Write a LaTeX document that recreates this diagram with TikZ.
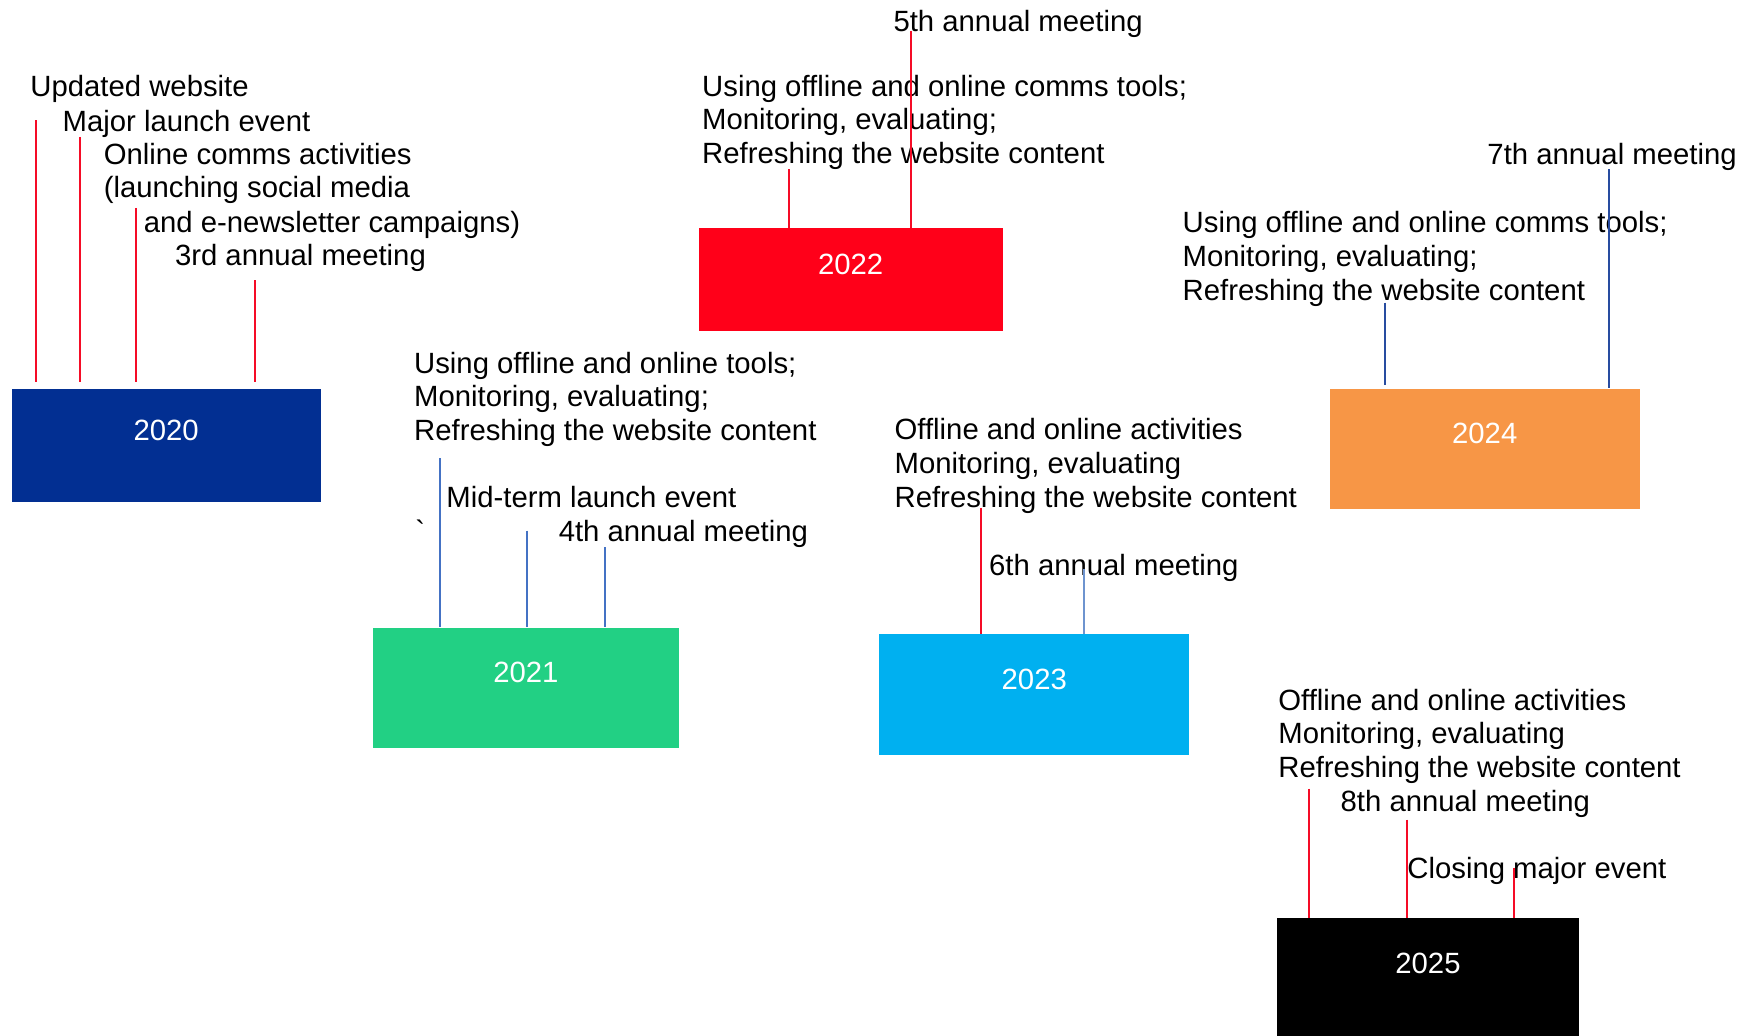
\documentclass[tikz,border=0pt]{standalone}
\usepackage{fontspec}
\setmainfont{Liberation Sans}
\usetikzlibrary{positioning}

\definecolor{yrblue}{RGB}{2,47,146}
\definecolor{yrgreen}{RGB}{34,208,132}
\definecolor{yrred}{RGB}{255,0,25}
\definecolor{yrcyan}{RGB}{0,176,240}
\definecolor{yrorange}{RGB}{247,150,70}
\definecolor{tickred}{RGB}{245,12,38}
\definecolor{tickblue}{RGB}{68,114,196}
\definecolor{ticklight}{RGB}{110,148,207}
\definecolor{tickdark}{RGB}{40,76,160}

\tikzset{
  yearbox/.style={anchor=north west, inner sep=0pt, text=white,
    text height=10.6pt, text depth=15.6pt},
  note/.style={anchor=base west, inner sep=0pt, align=left},
  tick/.style={line width=1pt}
}

\begin{document}
\begin{tikzpicture}[x=0.5561pt,y=-0.5561pt,
  every node/.style={font=\fontsize{14.65pt}{16.85pt}\selectfont}]
\useasboundingbox (0,0) rectangle (1568,931);

% year boxes
\node[yearbox, fill=yrblue, minimum width=154.6pt, minimum height=56.7pt] (b2020) at (10,349) {2020};
\node[yearbox, fill=yrgreen, minimum width=152.9pt, minimum height=60.1pt] (b2021) at (335,564) {2021};
\node[yearbox, fill=yrred, minimum width=151.8pt, minimum height=51.2pt] (b2022) at (628,205) {2022};
\node[yearbox, fill=yrcyan, minimum width=155.2pt, minimum height=60.1pt] (b2023) at (790,570) {2023};
\node[yearbox, fill=yrorange, minimum width=155.2pt, minimum height=60.1pt] (b2024) at (1195,349) {2024};
\node[yearbox, fill=black, minimum width=150.7pt, minimum height=60.1pt] (b2025) at (1148,825) {2025};

% 2020 (base of a note = its last line)
\node[note] (n2020a) at (27,87) {Updated website};
\node[note] (n2020b) at (56,118) {Major launch event};
\node[note] (n2020c) at (93,178) {Online comms activities\\(launching social media};
\node[note] (n2020d) at (129,209) {and e-newsletter campaigns)};
\node[note] (n2020e) at (157,239) {3rd annual meeting};
\foreach \x/\y in {32/108,72/123,122/187,229/252}
  \draw[tick, tickred, shorten >=3.3pt] (\x,\y) -- (\x,\y |- b2020.north);

% 2021
\node[note] (n2021a) at (372,396) {Using offline and online tools;\\Monitoring, evaluating;\\Refreshing the website content};
\node[note] (n2021b) at (401,456) {Mid-term launch event};
\node[note] (n2021c) at (373,487) {\textasciigrave};
\node[note] (n2021d) at (502,487) {4th annual meeting};
\foreach \x/\y in {396/412,474/477,544/492}
  \draw[tick, tickblue] (\x,\y) -- (\x,\y |- b2021.north);

% 2022
\node[note] (n2022a) at (803,28) {5th annual meeting};
\node[note] (n2022b) at (631,147) {Using offline and online comms tools;\\Monitoring, evaluating;\\Refreshing the website content};
\foreach \x/\y in {709/152,819/28}
  \draw[tick, tickred] (\x,\y) -- (\x,\y |- b2022.north);

% 2023
\node[note] (n2023a) at (804,456) {Offline and online activities\\Monitoring, evaluating\\Refreshing the website content};
\node[note] (n2023b) at (889,517) {6th annual meeting};
\draw[tick, tickred] (882,457) -- (882,457 |- b2023.north);
\draw[tick, ticklight] (975,512) -- (975,512 |- b2023.north);

% 2024
\node[note] (n2024a) at (1337,148) {7th annual meeting};
\node[note] (n2024b) at (1063,270) {Using offline and online comms tools;\\Monitoring, evaluating;\\Refreshing the website content};
\draw[tick, tickdark, shorten >=1.7pt] (1245,272) -- (1245,272 |- b2024.north);
\draw[tick, tickdark] (1447,152) -- (1447,152 |- b2024.north);

% 2025
\node[note] (n2025a) at (1149,699) {Offline and online activities\\Monitoring, evaluating\\Refreshing the website content};
\node[note] (n2025b) at (1205,730) {8th annual meeting};
\node[note] (n2025c) at (1265,790) {Closing major event};
\foreach \x/\y in {1177/709,1265/737,1361/780}
  \draw[tick, tickred] (\x,\y) -- (\x,\y |- b2025.north);
\end{tikzpicture}
\end{document}
